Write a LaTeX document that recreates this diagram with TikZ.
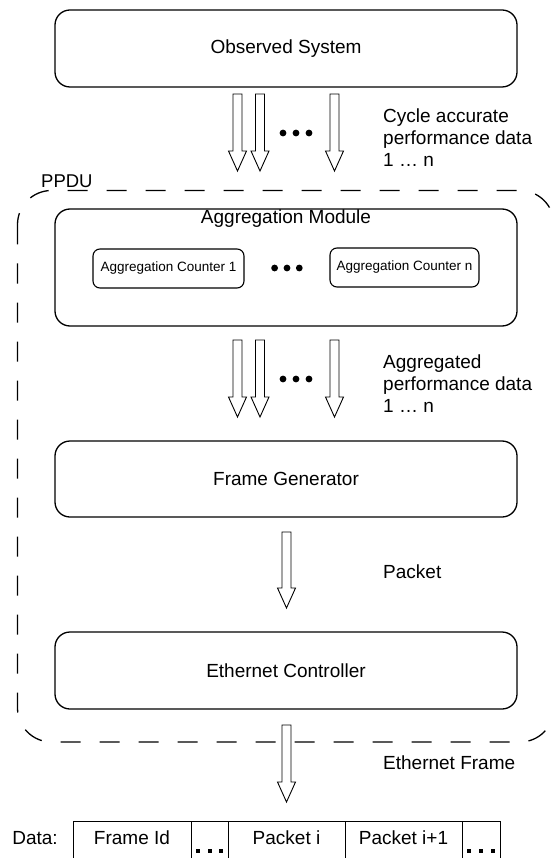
\documentclass[tikz,border=0pt]{standalone}
\usepackage{fontspec}
\setmainfont{Liberation Sans}
\newcommand{\blkarrow}[3]{% centre x, top y, tip y
  \draw[blockarrow] (#1-4.5,#2) -- (#1+4.5,#2) -- (#1+4.5,#3-20) -- (#1+9,#3-20)
    -- (#1,#3) -- (#1-9,#3-20) -- (#1-4.5,#3-20) -- cycle;}
\begin{document}
\begin{tikzpicture}[x=1pt,y=-1pt,
  box/.style={draw, line width=1.3pt, rounded corners=15pt, inner sep=0pt,
    font=\fontsize{19}{21.9}\selectfont},
  counter/.style={draw, line width=1.1pt, rounded corners=7pt, inner sep=0pt,
    font=\fontsize{13.5}{15}\selectfont},
  lbl/.style={inner sep=0pt, anchor=west, align=left,
    font=\fontsize{19}{21.9}\selectfont},
  blockarrow/.style={draw, line width=0.9pt, fill=white, line join=miter},
  bigdot/.style={fill=black, circle, inner sep=0pt, minimum size=6.8pt},
  cell/.style={draw, line width=0.9pt},
  celltext/.style={inner sep=0pt, font=\fontsize{19}{21.9}\selectfont},
  celldot/.style={fill=black, inner sep=0pt, minimum size=4pt}
]
\useasboundingbox (0,0) rectangle (552,858);
\clip (0,0) rectangle (552,858);

% PPDU boundary
\draw[line width=1.3pt, dash pattern=on 20pt off 19pt, rounded corners=34pt]
  (17.5,190.5) rectangle (554,742);
\node[inner sep=0pt, anchor=west, font=\fontsize{18.5}{21}\selectfont] (ppdu) at (41,181) {PPDU};

% main blocks
\node[box, minimum width=462pt, minimum height=77pt] (obs) at (286,48.5) {Observed System};
\node[box, minimum width=462pt, minimum height=117pt] (agg) at (286,267.5) {};
\node[inner sep=0pt, font=\fontsize{19}{21.9}\selectfont] (aggtitle) at (286,218.5) {Aggregation Module};
\node[counter, minimum width=151pt, minimum height=39pt] (c1) at (168.5,268.5) {Aggregation Counter 1};
\node[counter, minimum width=149pt, minimum height=39pt] (cn) at (404.5,267.5) {Aggregation Counter n};
\node[box, minimum width=462pt, minimum height=76pt] (fg) at (286,479) {Frame Generator};
\node[box, minimum width=462pt, minimum height=77pt] (ec) at (286,670.5) {Ethernet Controller};

% dots between counters
\foreach \x in {274.6,287,299.3} \node[bigdot] at (\x,268) {};

% performance data arrows
\blkarrow{237.5}{94}{171}
\blkarrow{260}{94}{171}
\blkarrow{334.5}{94}{171}
\foreach \x in {283,296,309} \node[bigdot] at (\x,133) {};
\node[lbl] (l1) at (383,138) {Cycle accurate\\performance data\\1 … n};

\blkarrow{237.5}{340}{417}
\blkarrow{260}{340}{417}
\blkarrow{334.5}{340}{417}
\foreach \x in {283,296,309} \node[bigdot] at (\x,379) {};
\node[lbl] (l2) at (383,384) {Aggregated\\performance data\\1 … n};

\blkarrow{286.5}{532}{608}
\node[lbl] (l3) at (383,572) {Packet};

\blkarrow{286.5}{725}{802}
\node[lbl] (l4) at (383,763) {Ethernet Frame};

% frame layout
\node[celltext] (data) at (35,838) {Data:};
\draw[cell] (73,821) rectangle (191,870);
\draw[cell] (191,821) rectangle (228,870);
\draw[cell] (228,821) rectangle (345,870);
\draw[cell] (345,821) rectangle (462,870);
\draw[cell] (462,821) rectangle (500,870);
\node[celltext] (fid) at (132,838) {Frame Id};
\node[celltext] (pi) at (286.5,838) {Packet i};
\node[celltext] (pi1) at (403.5,838) {Packet i+1};
\foreach \x in {198,209.5,221,469,481,493} \node[celldot] at (\x,851) {};
\end{tikzpicture}
\end{document}
